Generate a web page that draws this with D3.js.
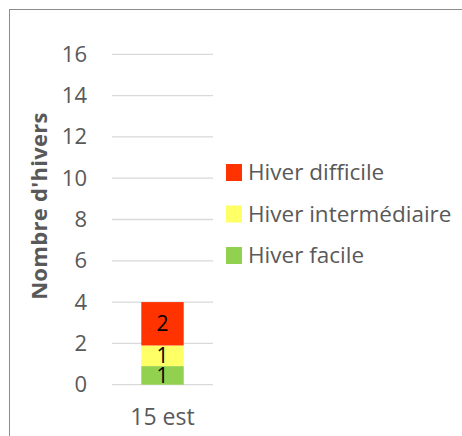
<!DOCTYPE html>
<html lang="fr">
<head>
<meta charset="UTF-8">
<title>Nombre d'hivers</title>
<script src="https://d3js.org/d3.v7.min.js"></script>
<style>
  body { margin: 0; background: #fff; }
  svg text { font-family: "Open Sans", "Liberation Sans", sans-serif; }
</style>
</head>
<body>
<svg id="chart"></svg>
<script>
// data
const categories = ["15 est"];
const seriesNames = ["Hiver facile", "Hiver intermédiaire", "Hiver difficile"];
const seriesColors = ["#92D050", "#FFFF66", "#FF3300"];
const facile = [0.9];
const intermediaire = [1.0];
const difficile = [2.1];
const yTicks = [0, 2, 4, 6, 8, 10, 12, 14, 16];

const width = 462, height = 436;
const svg = d3.select('#chart').attr('width', width).attr('height', height);

// outer chart border (runs off right/bottom)
svg.append('rect')
    .attr('x', 9.5).attr('y', 9.5)
    .attr('width', 470).attr('height', 440)
    .attr('fill', 'none')
    .attr('stroke', '#8c8c8c')
    .attr('stroke-width', 1);

const plot = { left: 112, right: 213, top: 54.3, bottom: 384.7 };

const x = d3.scaleBand()
    .domain(categories)
    .range([plot.left, plot.right])
    .paddingInner(0.58)
    .paddingOuter(0.29);

const y = d3.scaleLinear()
    .domain([0, 16])
    .range([plot.bottom, plot.top]);

// gridlines
svg.append('g')
    .selectAll('line')
    .data(yTicks)
    .enter().append('line')
    .attr('x1', plot.left).attr('x2', plot.right)
    .attr('y1', d => y(d)).attr('y2', d => y(d))
    .attr('stroke', '#d9d9d9')
    .attr('stroke-width', 1.3);

// y axis labels
const yAxis = svg.append('g')
    .attr('transform', `translate(${plot.left - 25},0)`)
    .call(d3.axisLeft(y).tickValues(yTicks).tickSize(0).tickPadding(0));
yAxis.select('.domain').remove();
yAxis.selectAll('text')
    .attr('fill', '#595959')
    .style('font-size', '22px');

// x axis labels
const xAxis = svg.append('g')
    .attr('transform', `translate(0,${plot.bottom})`)
    .call(d3.axisBottom(x).tickSize(0).tickPadding(24));
xAxis.select('.domain').remove();
xAxis.selectAll('text')
    .attr('fill', '#595959')
    .style('font-size', '23px');

// stack
const rows = categories.map((c, i) => ({
    cat: c,
    "Hiver facile": facile[i],
    "Hiver intermédiaire": intermediaire[i],
    "Hiver difficile": difficile[i]
}));
const stacked = d3.stack().keys(seriesNames)(rows);

const layers = svg.append('g')
    .selectAll('g')
    .data(stacked)
    .enter().append('g')
    .attr('fill', (d, i) => seriesColors[i]);

layers.selectAll('rect')
    .data(d => d)
    .enter().append('rect')
    .attr('x', d => x(d.data.cat))
    .attr('y', d => y(d[1]))
    .attr('width', x.bandwidth())
    .attr('height', d => y(d[0]) - y(d[1]));

layers.selectAll('text')
    .data(d => d)
    .enter().append('text')
    .attr('x', d => x(d.data.cat) + x.bandwidth() / 2)
    .attr('y', d => (y(d[0]) + y(d[1])) / 2)
    .attr('dy', '0.36em')
    .attr('text-anchor', 'middle')
    .attr('fill', '#000')
    .style('font-size', '21px')
    .text(d => d3.format('.0f')(d[1] - d[0]));

// y axis title
svg.append('text')
    .attr('transform', `translate(47,206) rotate(-90)`)
    .attr('text-anchor', 'middle')
    .attr('fill', '#595959')
    .style('font-size', '22px')
    .style('font-weight', 'bold')
    .style('letter-spacing', '0.3px')
    .text("Nombre d'hivers");

// legend (reverse order, difficile at top)
const legendItems = seriesNames.map((n, i) => ({ name: n, color: seriesColors[i] })).reverse();
const legend = svg.append('g').attr('transform', 'translate(226,172)');
legendItems.forEach((d, i) => {
    legend.append('rect')
        .attr('x', 0)
        .attr('y', i * 41.5 - 8)
        .attr('width', 16)
        .attr('height', 17)
        .attr('fill', d.color);
    legend.append('text')
        .attr('x', 22)
        .attr('y', i * 41.5)
        .attr('dy', '0.36em')
        .attr('fill', '#595959')
        .style('font-size', '22.5px')
        .text(d.name);
});
</script>
</body>
</html>
